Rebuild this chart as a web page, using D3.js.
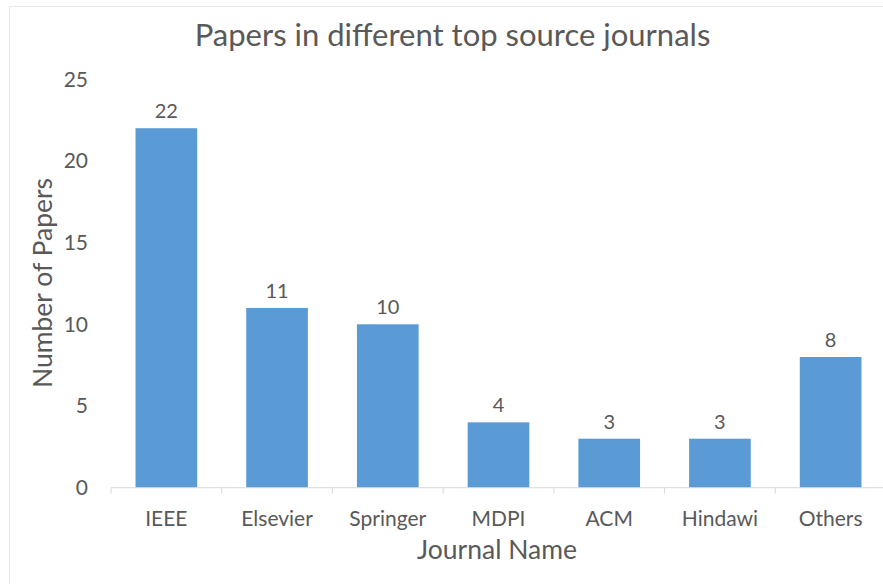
<!DOCTYPE html>
<html>
<head>
<meta charset="utf-8">
<script src="https://cdn.jsdelivr.net/npm/d3@7"></script>
<style>
  html, body { margin: 0; padding: 0; background: #fff; }
  text { font-family: Lato, "Open Sans", sans-serif; fill: #595959; }
</style>
</head>
<body>
<div id="chart"></div>
<script>
const journals = ["IEEE", "Elsevier", "Springer", "MDPI", "ACM", "Hindawi", "Others"];
const papers = [22, 11, 10, 4, 3, 3, 8];
const yTicks = [0, 5, 10, 15, 20, 25];

const width = 883, height = 584;
const margin = {top: 79.2, right: -3, bottom: 96.3, left: 111};
const plotW = width - margin.left - margin.right;
const plotH = height - margin.top - margin.bottom;

const svg = d3.select("#chart")
  .append("svg")
  .attr("width", width)
  .attr("height", height);

// faint chart-area border
svg.append("rect")
  .attr("x", 9.5).attr("y", 6.5)
  .attr("width", width + 20).attr("height", height + 20)
  .attr("fill", "none")
  .attr("stroke", "#eaeaea");

svg.append("text")
  .attr("x", 452.5).attr("y", 46)
  .attr("text-anchor", "middle")
  .style("font-size", "31px")
  .text("Papers in different top source journals");

const g = svg.append("g")
  .attr("transform", `translate(${margin.left}, ${margin.top})`);

let x = d3.scaleBand()
  .domain(journals)
  .range([0, plotW])
  .paddingInner(0.443)
  .paddingOuter(0.2215);

let y = d3.scaleLinear()
  .domain([0, 25])
  .range([plotH, 0]);

// y tick labels, no axis line
g.selectAll(".ytick")
  .data(yTicks)
  .enter().append("text")
  .attr("class", "ytick")
  .attr("x", -23)
  .attr("y", d => y(d))
  .attr("dy", "0.35em")
  .attr("text-anchor", "end")
  .style("font-size", "21px")
  .text(d => d);

g.selectAll(".bar")
  .data(journals)
  .enter().append("rect")
  .attr("class", "bar")
  .attr("x", d => x(d))
  .attr("width", x.bandwidth())
  .attr("y", (d, i) => y(papers[i]))
  .attr("height", (d, i) => plotH - y(papers[i]))
  .style("fill", "#5b9bd5");

g.selectAll(".val")
  .data(journals)
  .enter().append("text")
  .attr("class", "val")
  .attr("x", d => x(d) + x.bandwidth() / 2)
  .attr("y", (d, i) => y(papers[i]) - 10)
  .attr("text-anchor", "middle")
  .style("font-size", "20px")
  .text((d, i) => papers[i]);

// x axis: line plus tick marks at band edges
const xAxis = g.append("g")
  .attr("transform", `translate(0, ${plotH})`);
xAxis.append("line")
  .attr("x1", 0).attr("x2", plotW)
  .attr("stroke", "#d9d9d9");
xAxis.selectAll(".edge")
  .data(d3.range(journals.length + 1))
  .enter().append("line")
  .attr("x1", i => i * x.step()).attr("x2", i => i * x.step())
  .attr("y1", 0).attr("y2", 6)
  .attr("stroke", "#d9d9d9");
xAxis.selectAll(".xlab")
  .data(journals)
  .enter().append("text")
  .attr("x", d => x(d) + x.bandwidth() / 2)
  .attr("y", 31)
  .attr("dy", "0.35em")
  .attr("text-anchor", "middle")
  .style("font-size", "21px")
  .text(d => d);

svg.append("text")
  .attr("x", 497).attr("y", 559)
  .attr("text-anchor", "middle")
  .style("font-size", "26.5px")
  .text("Journal Name");

svg.append("text")
  .attr("transform", "translate(52, 283) rotate(-90)")
  .attr("text-anchor", "middle")
  .style("font-size", "26.5px")
  .text("Number of Papers");
</script>
</body>
</html>
